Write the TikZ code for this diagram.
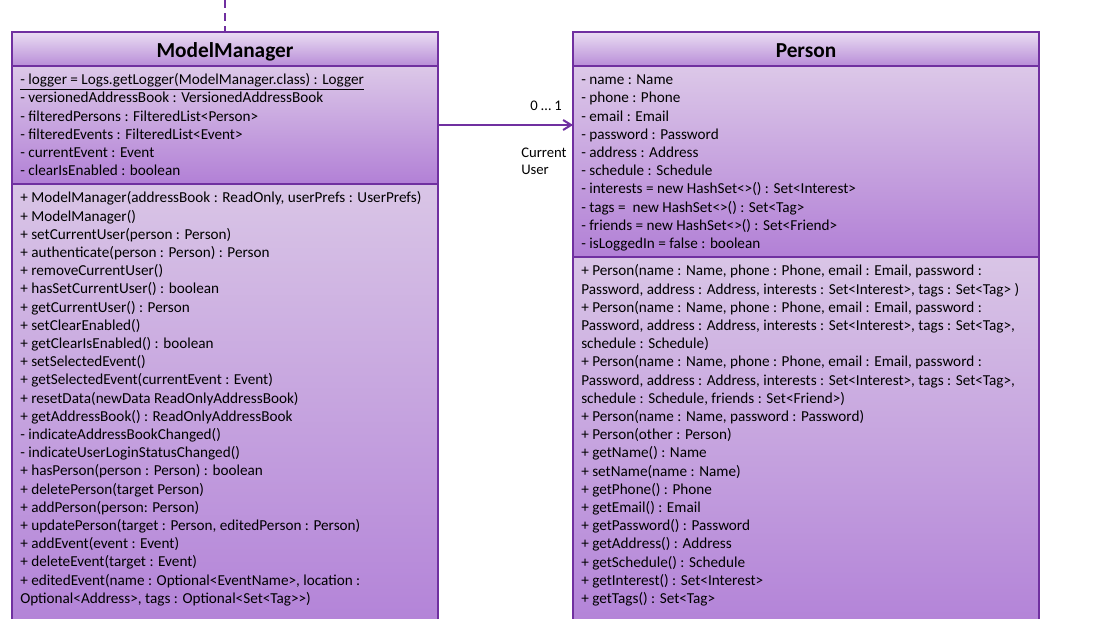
\documentclass[tikz,border=0pt]{standalone}
\usepackage{fontspec}
\setmainfont{Carlito}
\usetikzlibrary{arrows.meta}
\definecolor{umlborder}{HTML}{7030A0}
\definecolor{headtop}{HTML}{EADDF2}
\definecolor{headbot}{HTML}{B88DD8}
\definecolor{attrtop}{HTML}{DCC8E8}
\definecolor{attrbot}{HTML}{B280D6}
\definecolor{methtop}{HTML}{D9C5E6}
\definecolor{methbot}{HTML}{B383D8}
\tikzset{
  sect/.style={draw=umlborder, line width=1.5pt, inner sep=0pt, outer sep=0pt, anchor=north west, rectangle},
  headsect/.style={sect, top color=headtop, bottom color=headbot},
  attrsect/.style={sect, top color=attrtop, bottom color=attrbot},
  methsect/.style={sect, top color=methtop, bottom color=methbot},
  titletext/.style={anchor=base, inner sep=0pt, font=\fontsize{16}{19}\selectfont\bfseries},
  bodytext/.style={anchor=north west, inner sep=0pt, align=left, font=\fontsize{11.4}{13.65}\selectfont},
  assoc/.style={draw=umlborder, line width=1.5pt, -{Straight Barb[length=6pt,width=7.5pt,line width=1.5pt]}},
  dashconn/.style={draw=umlborder, line width=1.5pt, dash pattern=on 6pt off 3.75pt},
  labeltext/.style={inner sep=0pt, font=\fontsize{11}{13}\selectfont, align=left}
}
\newcommand{\fs}{\rule{0pt}{10pt}}
\begin{document}
\begin{tikzpicture}[x=0.75pt,y=-0.75pt]
\useasboundingbox (0,0) rectangle (1117,618);
% ModelManager
\node[headsect, minimum width=319.5pt, minimum height=25.5pt] (mmhead) at (12,32) {};
\node[attrsect, minimum width=319.5pt, minimum height=88.5pt] (mmattr) at (12,66) {};
\node[methsect, minimum width=319.5pt, minimum height=330.75pt] (mmmeth) at (12,184) {};
% Person
\node[headsect, minimum width=349.5pt, minimum height=25.5pt] (phead) at (573,32) {};
\node[attrsect, minimum width=349.5pt, minimum height=143.25pt] (pattr) at (573,66) {};
\node[methsect, minimum width=349.5pt, minimum height=276pt] (pmeth) at (573,257) {};
% titles
\node[titletext] (mmtitle) at (225,57.3) {ModelManager};
\node[titletext] (ptitle) at (806,57.3) {Person};
% ModelManager attributes
\node[bodytext] (mmattrtext) at (20,71) {\fs\underline{- logger = Logs.getLogger(ModelManager.class) : Logger}\\
- versionedAddressBook : VersionedAddressBook\\
- filteredPersons : FilteredList<Person>\\
- filteredEvents : FilteredList<Event>\\
- currentEvent : Event\\
- clearIsEnabled : boolean};
% ModelManager methods
\node[bodytext] (mmmethtext) at (20,189.2) {\fs+ ModelManager(addressBook : ReadOnly, userPrefs : UserPrefs)\\
+ ModelManager()\\
+ setCurrentUser(person : Person)\\
+ authenticate(person : Person) : Person\\
+ removeCurrentUser()\\
+ hasSetCurrentUser() : boolean\\
+ getCurrentUser() : Person\\
+ setClearEnabled()\\
+ getClearIsEnabled() : boolean\\
+ setSelectedEvent()\\
+ getSelectedEvent(currentEvent : Event)\\
+ resetData(newData ReadOnlyAddressBook)\\
+ getAddressBook() : ReadOnlyAddressBook\\
- indicateAddressBookChanged()\\
- indicateUserLoginStatusChanged()\\
+ hasPerson(person : Person) : boolean\\
+ deletePerson(target Person)\\
+ addPerson(person: Person)\\
+ updatePerson(target : Person, editedPerson : Person)\\
+ addEvent(event : Event)\\
+ deleteEvent(target : Event)\\
+ editedEvent(name : Optional<EventName>, location :\\
Optional<Address>, tags : Optional<Set<Tag>{}>)};
% Person attributes
\node[bodytext] (pattrtext) at (581,71) {\fs- name : Name\\
- phone : Phone\\
- email : Email\\
- password : Password\\
- address : Address\\
- schedule : Schedule\\
- interests = new HashSet<>() : Set<Interest>\\
- tags = ~new HashSet<>() : Set<Tag>\\
- friends = new HashSet<>() : Set<Friend>\\
- isLoggedIn = false : boolean};
% Person methods
\node[bodytext] (pmethtext) at (581,262.2) {\fs+ Person(name : Name, phone : Phone, email : Email, password :\\
Password, address : Address, interests : Set<Interest>, tags : Set<Tag> )\\
+ Person(name : Name, phone : Phone, email : Email, password :\\
Password, address : Address, interests : Set<Interest>, tags : Set<Tag>,\\
schedule : Schedule)\\
+ Person(name : Name, phone : Phone, email : Email, password :\\
Password, address : Address, interests : Set<Interest>, tags : Set<Tag>,\\
schedule : Schedule, friends : Set<Friend>)\\
+ Person(name : Name, password : Password)\\
+ Person(other : Person)\\
+ getName() : Name\\
+ setName(name : Name)\\
+ getPhone() : Phone\\
+ getEmail() : Email\\
+ getPassword() : Password\\
+ getAddress() : Address\\
+ getSchedule() : Schedule\\
+ getInterest() : Set<Interest>\\
+ getTags() : Set<Tag>};
% connectors
\coordinate (dtop) at (225,0);
\draw[dashconn] (dtop) -- (mmhead.north);
\draw[assoc] (mmattr.east) -- (mmattr.east -| pattr.west);
\node[labeltext, anchor=base west] (mult) at (530,110) {0 … 1};
\node[labeltext, anchor=north west] (role) at (521,143.4) {\fs Current\\User};
\end{tikzpicture}
\end{document}
